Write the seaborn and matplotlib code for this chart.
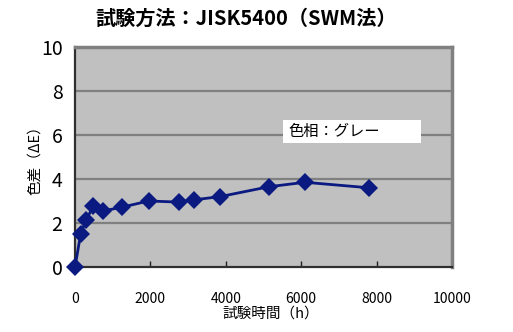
import matplotlib
matplotlib.use("Agg")
import matplotlib.pyplot as plt
from matplotlib.patches import Rectangle
import seaborn as sns
import pandas as pd

# Weathering test results (JIS K5400, sunshine weather-meter)
hours = [0, 150, 300, 480, 750, 1250, 1950, 2750, 3150, 3850, 5150, 6100, 7800]
delta_e = [0.0, 1.5, 2.15, 2.75, 2.55, 2.72, 3.0, 2.95, 3.05, 3.2, 3.65, 3.85, 3.6]
x_ticks = [0, 2000, 4000, 6000, 8000, 10000]
y_ticks = [0, 2, 4, 6, 8, 10]

title = "試験方法：JISK5400（SWM法）"
x_label = "試験時間（h）"
y_label = "色差（ΔE）"
note = "色相：グレー"

sns.set_theme(style="white")
plt.rcParams["font.family"] = ["Noto Sans CJK JP", "DejaVu Sans"]

df = pd.DataFrame({"hours": hours, "delta_e": delta_e})

fig = plt.figure(figsize=(5.13, 3.32), dpi=100)
ax = fig.add_axes([0.1462, 0.1958, 0.7349, 0.6627])
ax.set_facecolor("#C0C0C0")

for y in y_ticks[1:-1]:
    ax.axhline(y, color="#808080", lw=1.6, zorder=1)

sns.lineplot(data=df, x="hours", y="delta_e", ax=ax, color="#0A1A80",
             lw=2.0, marker="D", markersize=9, markeredgewidth=0,
             zorder=3, clip_on=False)

ax.set_xlim(0, 10000)
ax.set_ylim(0, 10)
ax.set_xticks(x_ticks)
ax.set_yticks(y_ticks)
ax.set_xticklabels([str(t) for t in x_ticks], fontsize=10, color="black")
ax.set_yticklabels([str(t) for t in y_ticks], fontsize=14, color="black")
ax.tick_params(axis="x", direction="in", length=4, width=1, color="#202020",
               pad=18, bottom=True)
ax.tick_params(axis="y", length=0, pad=9)

for side in ["top", "right"]:
    ax.spines[side].set_color("#808080")
    ax.spines[side].set_linewidth(2.5)
for side in ["left", "bottom"]:
    ax.spines[side].set_color("#303030")
    ax.spines[side].set_linewidth(1.6)

ax.set_xlabel(x_label, fontsize=10.5, color="black", labelpad=-4)
ax.set_ylabel(y_label, fontsize=10.5, color="black", labelpad=-1)
ax.xaxis.set_label_coords(0.52, -0.18)

# Annotation box for the sample colour
ax.add_patch(Rectangle((5517, 5.64), 3660, 1.04, facecolor="white",
                       edgecolor="none", zorder=4))
ax.text(5650, 6.15, note, fontsize=11, va="center", ha="left", zorder=5,
        color="black")

fig.text(0.479, 0.946, title, fontsize=14.5, fontweight="bold",
         ha="center", va="center", color="black")

fig.savefig("out.png", dpi=100, facecolor="white")
